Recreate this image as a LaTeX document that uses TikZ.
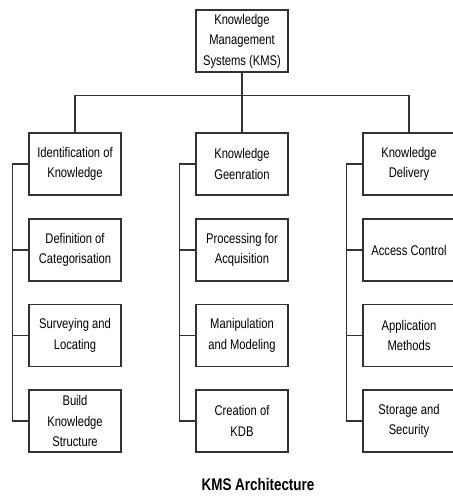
\documentclass[tikz,border=0pt]{standalone}
\usepackage{fontspec}
\setmainfont{Liberation Sans}[FakeStretch=0.8]
\usepackage{tikz}
\usetikzlibrary{trees}
\tikzset{
  kbox/.style = {draw=black!80, line width=1.1pt, align=center, inner sep=0pt, minimum width=92pt, minimum height=62pt, font=\fontsize{14}{20.5}\selectfont},
  lbl/.style = {font=\fontsize{16.8}{18}\selectfont\bfseries},
  link/.style = {draw, line width=1.1pt, black!80},
  level 1/.style = {sibling distance=167pt, level distance=123pt,
    edge from parent path={(\tikzparentnode.south) -- ++(0,-23pt) -| (\tikzchildnode.north)}},
  level 2/.style = {grow via three points={one child at (0,-86pt) and two children at (0,-86pt) and (0,-171.5pt)},
    edge from parent path={(\tikzparentnode.west) -- ++(-16pt,0) |- (\tikzchildnode.west)}}% sous-taches en colonne
}
\begin{document}
\begin{tikzpicture}[edge from parent/.style={link}]
\useasboundingbox (0,0) rectangle (452pt,-497pt);
\node [kbox] (k0) at (242pt,-41pt) {Knowledge\\Management\\Systems (KMS)}
    child{ node [kbox] (k1_1) {Identification of\\Knowledge}
        child{ node [kbox] (k2_1) {Definition of\\Categorisation}}
        child{ node [kbox] (k2_2) {Surveying and\\Locating}}
        child{ node [kbox] (k2_3) {Build\\Knowledge\\Structure}}
    }
    child{ node [kbox] (k1_2) {Knowledge\\Geenration}
        child{ node [kbox] (k2_4) {Processing for\\Acquisition}}
        child{ node [kbox] (k2_5) {Manipulation\\and Modeling}}
        child{ node [kbox] (k2_6) {Creation of\\KDB}}
    }
    child{ node [kbox] (k1_3) {Knowledge\\Delivery}
        child{ node [kbox] (k2_7) {Access Control}}
        child{ node [kbox] (k2_8) {Application\\Methods}}
        child{ node [kbox] (k2_9) {Storage and\\Security}}
    };
\node [lbl] (titre) at (258pt,-484pt) {KMS Architecture};
\end{tikzpicture}
\end{document}
